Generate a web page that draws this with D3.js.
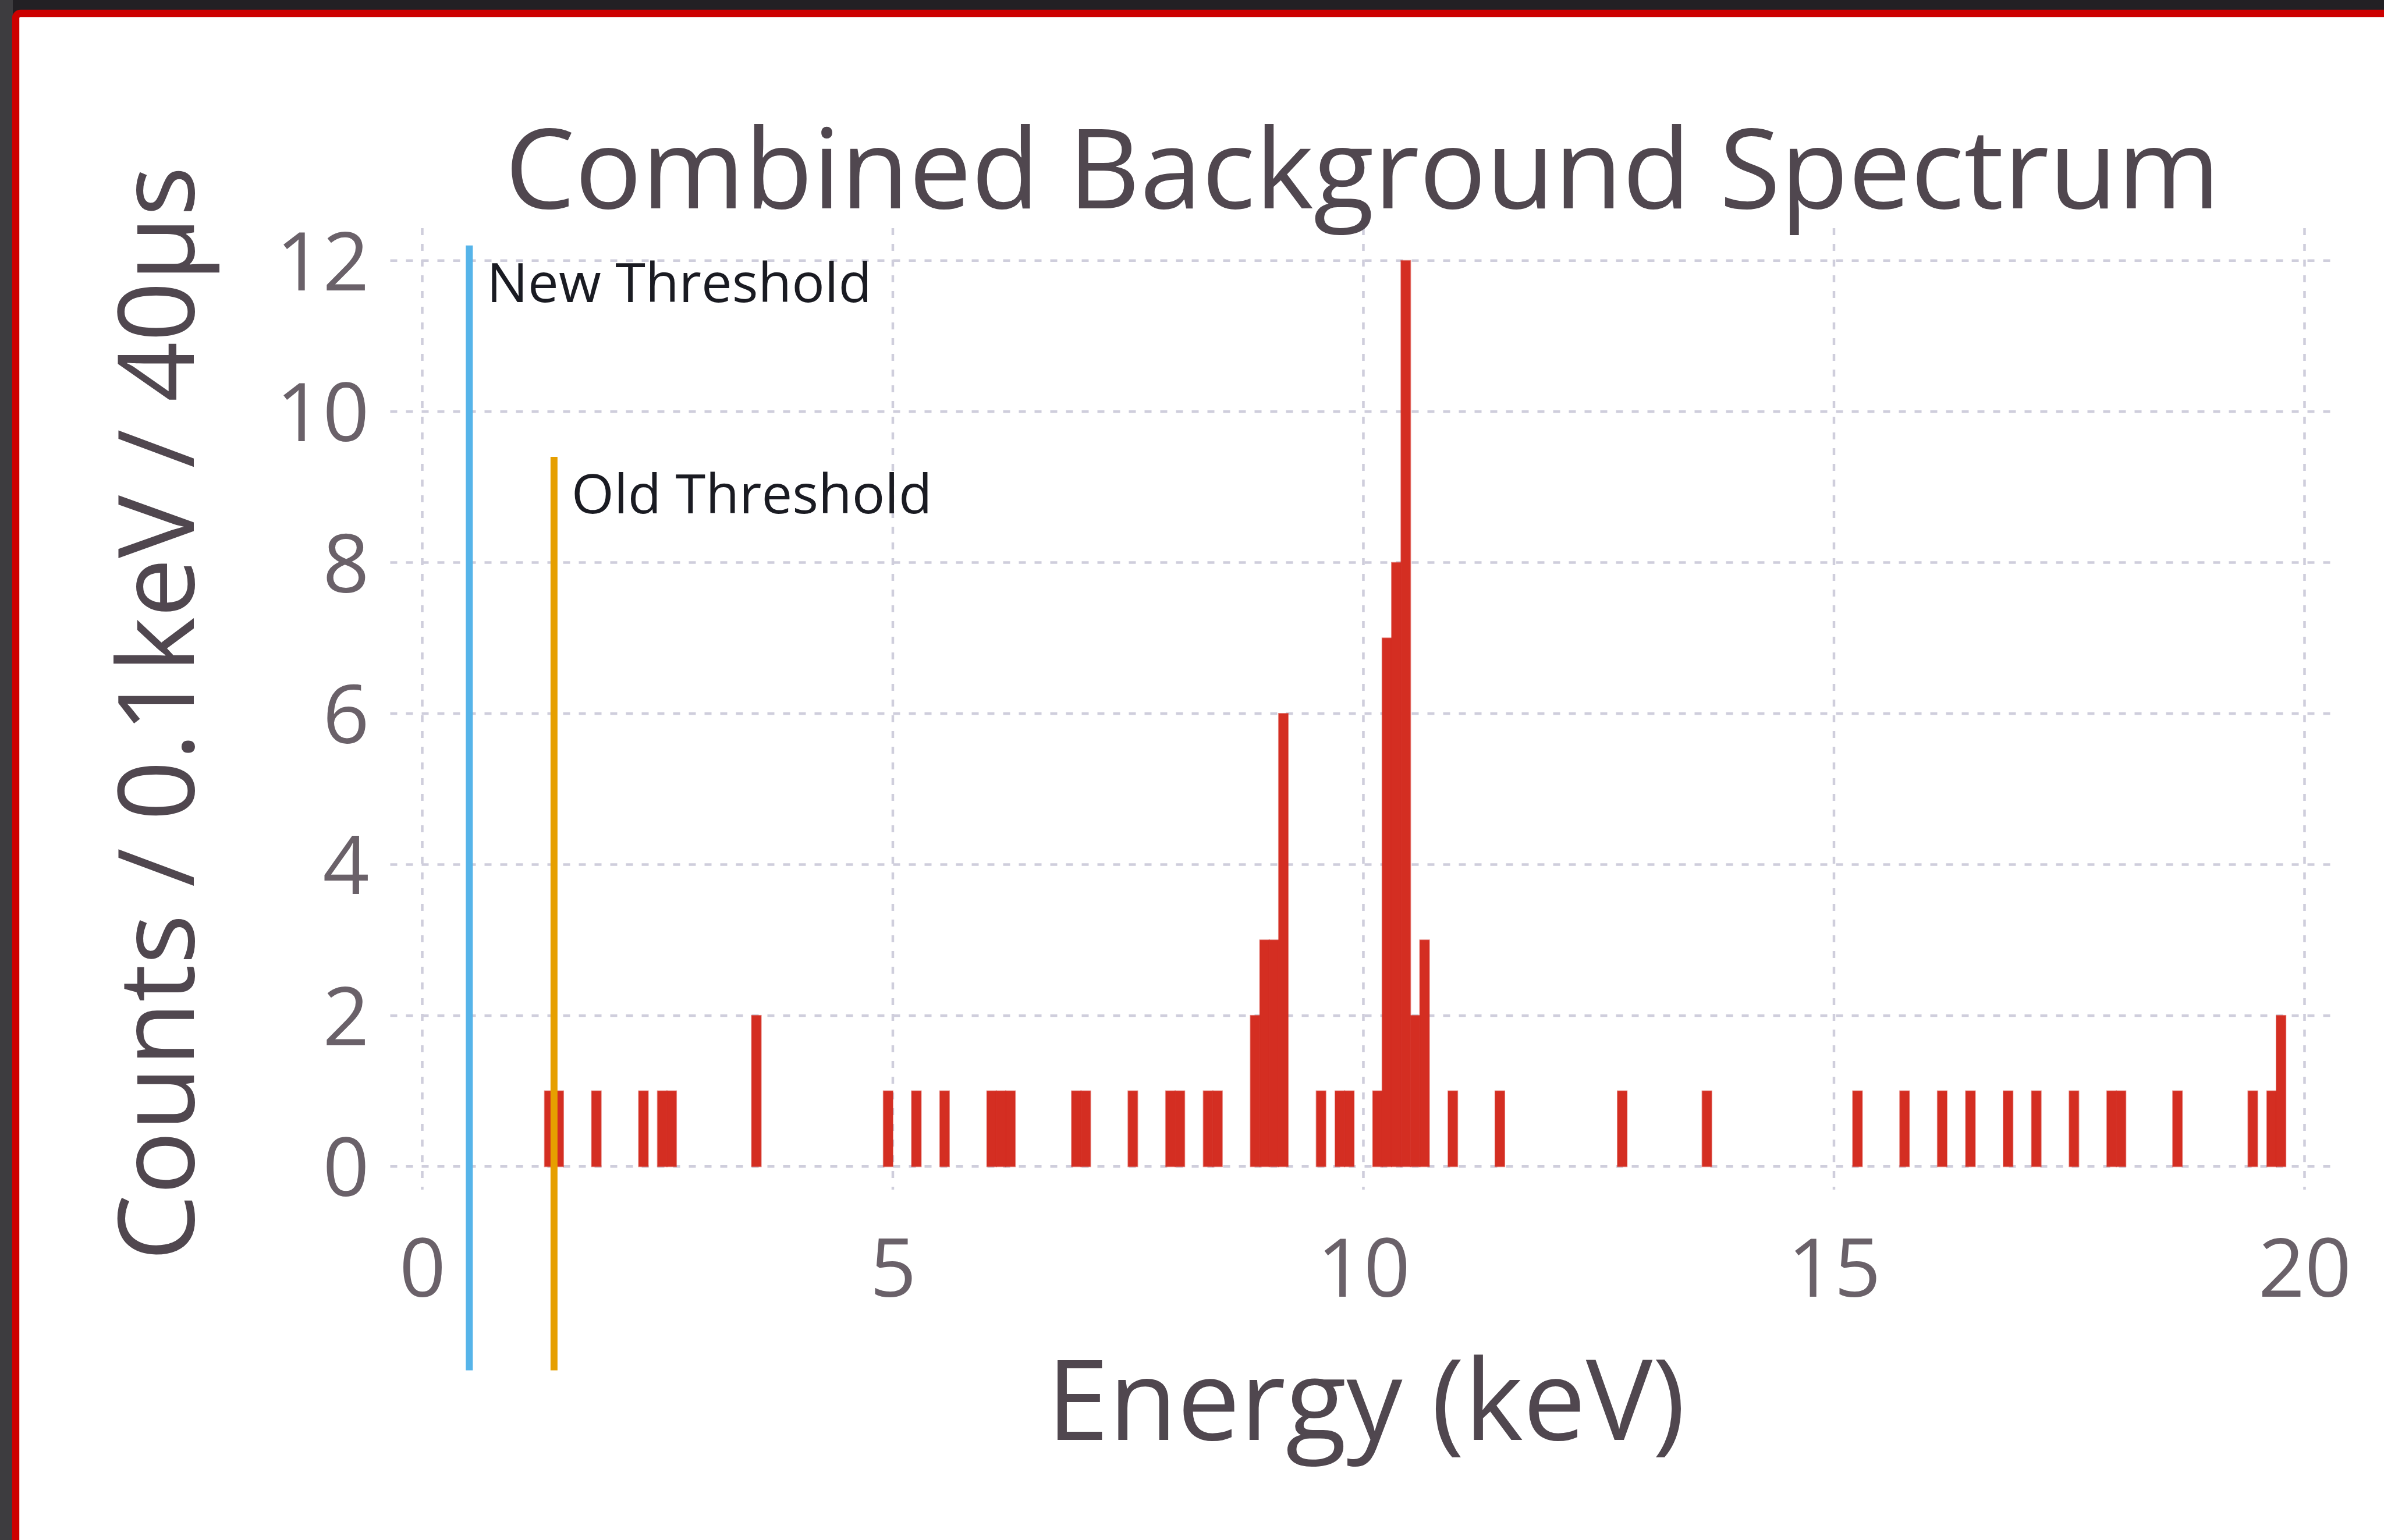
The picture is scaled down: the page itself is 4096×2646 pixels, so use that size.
<!DOCTYPE html>
<html>
<head>
  <meta charset="utf-8">
  <title>Combined Background Spectrum</title>
  <style>
  html, body { margin: 0; padding: 0; background: #222024; overflow: hidden; }
  svg { display: block; }
  text { font-family: "Open Sans", "Noto Sans", sans-serif; }
  .grid line {
    stroke: #cfcedc;
    stroke-width: 4.5px;
    stroke-dasharray: 12 15;
  }
  .bar {
    fill: #d42e22;
    stroke: rgba(212, 46, 34, 0.55);
    stroke-width: 2px;
  }
  </style>
</head>
<body>
  <svg width="4096" height="2646"></svg>
  <script src="https://d3js.org/d3.v7.min.js"></script>
  <script>
  // histogram bins (left edge, keV) and counts per 0.1 keV
  var binWidth = 0.1;
  var binStart = [1.3, 1.4, 1.8, 2.3, 2.5, 2.6, 3.5, 4.9, 5.2, 5.5,
                  6.0, 6.1, 6.2, 6.9, 7.0, 7.5, 7.9, 8.0, 8.3, 8.4,
                  8.8, 8.9, 9.0, 9.1, 9.5, 9.7, 9.8, 10.1, 10.2, 10.3,
                  10.4, 10.5, 10.6, 10.9, 11.4, 12.7, 13.6, 15.2, 15.7, 16.1,
                  16.4, 16.8, 17.1, 17.5, 17.9, 18.0, 18.6, 19.4, 19.6, 19.7];
  var counts   = [1, 1, 1, 1, 1, 1, 2, 1, 1, 1,
                  1, 1, 1, 1, 1, 1, 1, 1, 1, 1,
                  2, 3, 3, 6, 1, 1, 1, 1, 7, 8,
                  12, 2, 3, 1, 1, 1, 1, 1, 1, 1,
                  1, 1, 1, 1, 1, 1, 1, 1, 1, 2];

  var xTicks = [0, 5, 10, 15, 20];
  var yTicks = [0, 2, 4, 6, 8, 10, 12];

  // threshold markers
  var thresholdNames  = ["New Threshold", "Old Threshold"];
  var thresholdEnergy = [0.5, 1.4];
  var thresholdTop    = [12.2, 9.4];
  var thresholdBottom = -2.7;
  var thresholdColors = ["#56b4e9", "#e69f00"];

  var svg = d3.select("svg");
  var W = 4096, H = 2646;

  // screen background + red frame
  svg.append("rect").attr("x", 0).attr("y", 0).attr("width", 22).attr("height", H)
    .attr("fill", "#3d3c3f");
  svg.append("rect")
    .attr("x", 27).attr("y", 23)
    .attr("width", W + 200).attr("height", H + 200)
    .attr("rx", 8)
    .attr("fill", "#ffffff")
    .attr("stroke", "#cc0000")
    .attr("stroke-width", 12.4);

  // scales (domain padded like the plotting library does)
  var x = d3.scaleLinear().domain([-0.34, 20.3]).range([670.5, 4008]);
  var y = d3.scaleLinear().domain([-0.306, 12.43]).range([2044, 392]);

  // grid
  var grid = svg.append("g").attr("class", "grid");
  grid.selectAll(".hgrid")
    .data(yTicks)
    .enter()
    .append("line")
    .attr("x1", x.range()[0]).attr("x2", x.range()[1])
    .attr("y1", function(d) { return y(d); })
    .attr("y2", function(d) { return y(d); });
  grid.selectAll(".vgrid")
    .data(xTicks)
    .enter()
    .append("line")
    .attr("y1", y.range()[1]).attr("y2", y.range()[0])
    .attr("x1", function(d) { return x(d); })
    .attr("x2", function(d) { return x(d); });

  // axes (labels only, no domain or tick marks)
  var xAxis = svg.append("g")
    .attr("transform", "translate(0," + (y.range()[0] + 85) + ")")
    .call(d3.axisBottom(x).tickValues(xTicks).tickSize(0).tickPadding(0));
  var yAxis = svg.append("g")
    .attr("transform", "translate(" + (x.range()[0] - 36) + ",0)")
    .call(d3.axisLeft(y).tickValues(yTicks).tickSize(0).tickPadding(0));
  [xAxis, yAxis].forEach(function(a) {
    a.select(".domain").remove();
    a.selectAll("text")
      .attr("fill", "#6a6169")
      .style("font-family", "'Open Sans', 'Noto Sans', sans-serif")
      .style("font-size", "140px");
  });
  yAxis.selectAll("text").attr("dy", "0.36em");

  // bars
  var bins = binStart.map(function(s, i) { return { start: s, count: counts[i] }; });
  svg.append("g").selectAll(".bar")
    .data(bins)
    .enter()
    .append("rect")
    .attr("class", "bar")
    .attr("x", function(d) { return x(d.start); })
    .attr("width", function(d) { return x(d.start + binWidth) - x(d.start); })
    .attr("y", function(d) { return y(d.count); })
    .attr("height", function(d) { return y(0) - y(d.count); });

  // threshold lines + labels
  var thr = thresholdNames.map(function(n, i) {
    return { name: n, e: thresholdEnergy[i], top: thresholdTop[i], color: thresholdColors[i] };
  });
  var tg = svg.append("g").selectAll("g")
    .data(thr)
    .enter()
    .append("g");
  tg.append("line")
    .attr("x1", function(d) { return x(d.e); })
    .attr("x2", function(d) { return x(d.e); })
    .attr("y1", function(d) { return y(d.top); })
    .attr("y2", y(thresholdBottom))
    .attr("stroke", function(d) { return d.color; })
    .attr("stroke-width", 12);
  tg.append("text")
    .attr("x", function(d) { return x(d.e) + 30; })
    .attr("y", function(d) { return y(d.top) + 97; })
    .attr("fill", "#1a1b22")
    .style("font-size", "94px")
    .text(function(d) { return d.name; });

  // titles
  svg.append("text")
    .attr("x", 2341).attr("y", 358)
    .attr("text-anchor", "middle")
    .attr("fill", "#50474f")
    .style("font-size", "191px")
    .text("Combined Background Spectrum");
  svg.append("text")
    .attr("x", 2347).attr("y", 2474)
    .attr("text-anchor", "middle")
    .attr("fill", "#50474f")
    .style("font-size", "192px")
    .text("Energy (keV)");
  svg.append("text")
    .attr("transform", "translate(333,1226) rotate(-90)")
    .attr("text-anchor", "middle")
    .attr("fill", "#50474f")
    .style("font-size", "181px")
    .text("Counts / 0.1keV / 40μs");
  </script>
</body>
</html>
